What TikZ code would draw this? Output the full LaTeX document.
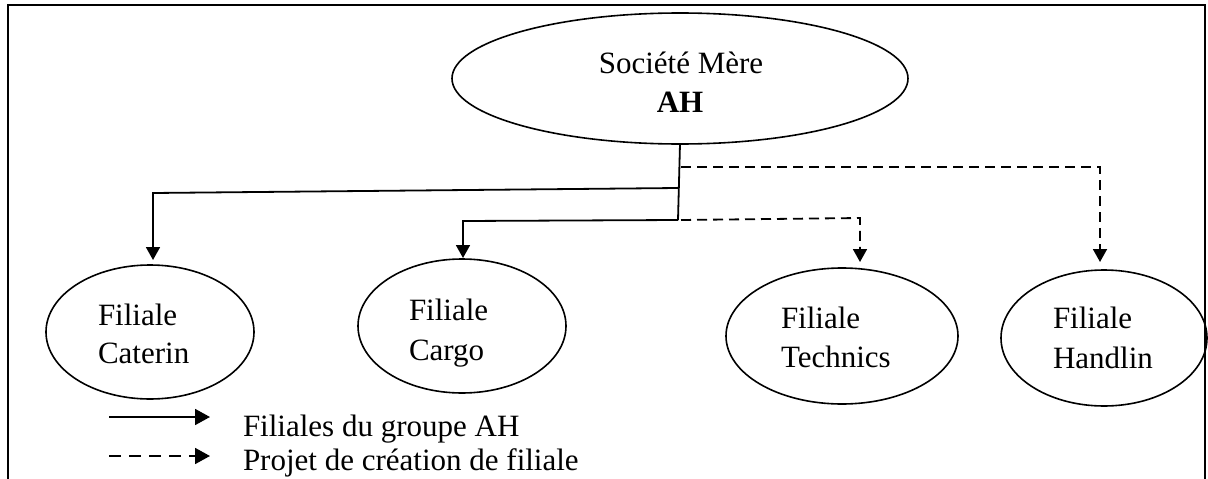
\documentclass[tikz,border=0pt]{standalone}
\usepackage{fontspec}
\setmainfont{Liberation Serif}
\usetikzlibrary{shapes.geometric,arrows.meta}
\begin{document}
\begin{tikzpicture}[x=1pt,y=-1pt,
  every node/.style={font=\fontsize{31}{39}\selectfont, inner sep=0pt, outer sep=0pt},
  entity/.style={draw, ellipse, line width=1.6pt, minimum width=208pt, minimum height=134pt},
  wire/.style={line width=1.8pt},
  solidlink/.style={wire, -{Triangle[length=13pt,width=14pt]}},
  dashlink/.style={solidlink, dash pattern=on 10pt off 6pt},
  legsolid/.style={wire, -{Triangle[length=15pt,width=16pt]}},
  legdash/.style={legsolid, dash pattern=on 12pt off 8pt},
  lbl/.style={anchor=base west},
  ]
\useasboundingbox (0,0) rectangle (1208,479);

% open frame
\draw[wire] (8,479) -- (8,5) -- (1205,5) -- (1205,479);

% parent company
\node[draw, ellipse, line width=1.6pt, minimum width=456pt, minimum height=131pt] (mere) at (680,78.5) {};
\node[anchor=base] (mereA) at (681,73) {Société Mère};
\node[anchor=base] (mereB) at (680,112) {\bfseries AH};

% subsidiaries
\node[entity] (cat) at (150,332) {};
\node[entity] (car) at (462,326) {};
\node[entity, minimum width=232pt, minimum height=136pt] (tec) at (842,336) {};
\node[entity, minimum width=206pt, minimum height=136pt] (han) at (1104,338) {};

\node[lbl] (catA) at (98,325) {Filiale};
\node[lbl] (catB) at (98,363) {Caterin};
\node[lbl] (carA) at (409,320) {Filiale};
\node[lbl] (carB) at (409,360) {Cargo};
\node[lbl] (tecA) at (781,328) {Filiale};
\node[lbl] (tecB) at (781,367) {Technics};
\node[lbl] (hanA) at (1053,328) {Filiale};
\node[lbl] (hanB) at (1053,368) {Handlin};

% junction points on the trunk
\coordinate (jd1) at (678,167);
\coordinate (js1) at (678,188);
\coordinate (jb)  at (678,220);

% trunk
\draw[wire] (mere.south) -- (jb);

% existing subsidiaries
\draw[solidlink] (js1) -- (153,193) -- ([xshift=3pt,yshift=5pt]cat.north);
\draw[solidlink] (jb) -- (463,221) -- ([xshift=1pt,yshift=1pt]car.north);

% planned subsidiaries
\draw[dashlink] ([xshift=3pt]jd1) -- (1100,167) -- ([xshift=-4pt,yshift=8pt]han.north);
\draw[dashlink] ([xshift=3pt]jb) -- (860,218) -- ([xshift=18pt,yshift=6pt]tec.north);

% legend
\coordinate (l1a) at (109,417);
\coordinate (l1b) at (210,417);
\coordinate (l2a) at (109,456);
\coordinate (l2b) at (210,456);
\draw[legsolid] (l1a) -- (l1b);
\draw[legdash] (l2a) -- (l2b);
\node[lbl] (legA) at (243,436) {Filiales du groupe AH};
\node[lbl] (legB) at (243,470) {Projet de création de filiale};
\end{tikzpicture}
\end{document}
